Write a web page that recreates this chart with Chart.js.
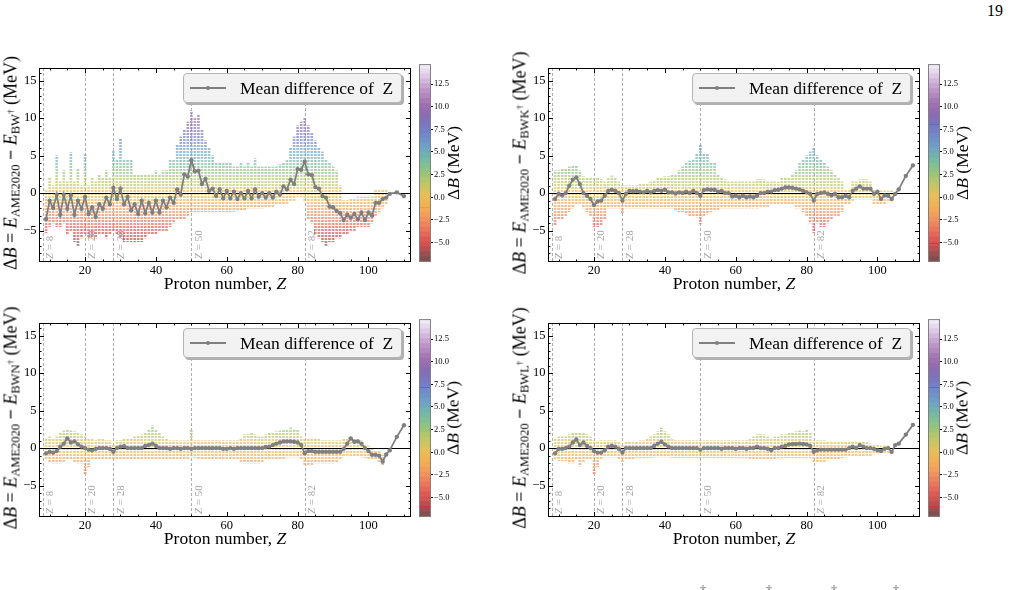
<!DOCTYPE html>
<html>
<head>
<meta charset="utf-8">
<title>Delta B versus proton number</title>
<script src="https://cdn.jsdelivr.net/npm/chart.js@4.4.1/dist/chart.umd.min.js"></script>
<style>
html,body{margin:0;padding:0;background:#fff}
body{position:relative;width:1014px;height:590px;overflow:hidden;font-family:"Liberation Serif","DejaVu Serif",serif;color:#000}
canvas{position:absolute}
.rot{position:absolute;white-space:nowrap;transform:translate(-50%,-50%) rotate(-90deg)}
.ylab{font-size:18px}
.ylab sub{font-size:12.5px;vertical-align:-3px}
.ylab sup{font-size:9px;vertical-align:6px}
.cblab{font-size:17.5px}
.xlab{position:absolute;white-space:nowrap;font-size:17.5px;transform:translate(-50%,-50%)}
.leg{position:absolute;box-sizing:border-box;width:219px;height:30px;border:1px solid #b4b4b4;border-radius:4px;background:#f2f2f2;box-shadow:2px 2px 0 #b0b0b0}
.leg .ln{position:absolute;left:6px;top:13px;width:36px;height:2px;background:#808080}
.leg .dot{position:absolute;left:22px;top:12px;width:4px;height:4px;border-radius:50%;background:#808080}
.leg .tx{position:absolute;left:56px;top:3px;font-size:17.5px;line-height:22px;white-space:pre}
.pg{position:absolute;left:987px;top:2px;font-size:16px}
.dg{position:absolute;top:583px;font-size:12px;color:#555}
</style>
</head>
<body>
<script>
// proton numbers present in the data
const Z = [9,10,11,12,13,14,15,16,17,18,
  19,20,21,22,23,24,25,26,27,28,
  29,30,31,32,33,34,35,36,37,38,
  39,40,41,42,43,44,45,46,47,48,
  49,50,51,52,53,54,55,56,57,58,
  59,60,61,62,63,64,65,66,67,68,
  69,70,71,72,73,74,75,76,77,78,
  79,80,81,82,83,84,85,86,87,88,
  89,90,91,92,93,94,95,96,97,98,
  99,100,101,102,103,104,105,106,108,110];

// BW+ : mean, lowest and highest ΔB of each Z (MeV)
const meanBW = [-3.45,-1.0,-2.0,-0.2,-2.9,-0.2,-2.1,-0.3,-2.9,-1.0,
  -2.1,-0.5,-2.8,-1.9,-3.2,-1.5,-2.1,-0.6,-1.5,0.7,
  -0.8,0.6,-1.5,-0.5,-2.3,-1.5,-2.8,-1.0,-2.7,-1.3,
  -2.6,-1.0,-2.6,-1.0,-1.9,-0.6,-1.3,0.5,-0.2,2.5,
  2.2,4.4,2.9,3.0,1.2,1.9,0.3,0.6,-0.4,0.5,
  -0.7,0.3,-0.7,0.2,-0.8,0.0,-0.7,0.3,-0.7,0.5,
  -0.5,0.0,-0.6,0.0,-0.6,0.2,-0.2,0.9,0.5,1.8,
  1.2,3.2,3.1,4.2,2.5,2.4,0.8,0.6,-0.4,-0.6,
  -1.8,-1.9,-2.4,-2.7,-3.6,-2.9,-3.3,-2.8,-3.5,-2.6,
  -3.6,-2.6,-3.0,-1.3,-1.3,-0.8,-0.6,-0.1,0.1,-0.4];
const loBW = [-5.3,-4.5,-4.0,-4.5,-4.5,-4.0,-5.5,-5.0,-6.5,-7.0,
  -6.0,-5.5,-6.0,-6.0,-6.0,-5.5,-5.5,-6.0,-5.5,-5.0,
  -5.5,-6.0,-6.5,-6.5,-6.5,-6.5,-6.5,-6.5,-6.0,-5.5,
  -5.5,-5.5,-5.0,-5.0,-5.0,-4.5,-4.0,-3.5,-3.5,-3.5,
  -3.0,-2.5,-2.5,-2.5,-2.5,-2.5,-2.5,-2.5,-2.5,-2.5,
  -2.5,-2.5,-2.5,-2.5,-2.3,-2.3,-2.3,-2.0,-2.0,-2.0,
  -2.0,-2.0,-1.8,-1.8,-1.8,-1.5,-1.5,-1.5,-1.5,-1.0,
  -1.0,-0.5,-0.5,-1.0,-3.5,-4.0,-5.5,-6.0,-6.5,-7.0,
  -6.5,-6.5,-6.0,-6.0,-5.5,-5.5,-5.0,-5.0,-4.5,-4.5,
  -4.5,-4.5,-4.0,-3.0,-2.5,-2.0,-1.5,-0.1,0.1,-0.4];
const hiBW = [0.5,2.0,1.0,5.0,1.5,3.0,1.5,5.4,1.5,3.2,
  1.0,5.2,1.0,2.0,1.5,2.5,2.0,3.0,2.0,5.7,
  4.5,7.2,4.5,4.5,4.5,2.5,2.5,2.5,2.5,2.5,
  2.5,3.0,2.5,3.0,3.0,4.5,4.5,6.5,7.5,8.5,
  9.5,11.0,10.0,10.5,8.5,7.0,6.0,5.0,4.0,4.0,
  4.0,4.0,4.0,3.5,3.5,4.0,3.5,4.0,3.5,4.6,
  3.5,3.5,3.5,3.5,3.5,3.5,3.8,4.0,4.5,6.0,
  7.5,9.0,9.5,10.0,9.0,8.0,7.0,6.0,5.5,4.5,
  4.0,3.5,3.0,1.0,-1.0,-1.0,-0.8,-0.8,-0.5,-0.5,
  -0.5,-0.5,-0.5,0.5,0.5,0.5,0.5,-0.1,0.1,-0.4];

// BWK+
const meanBWK = [-0.8,-0.1,-0.3,0.0,1.0,1.8,2.1,1.2,0.0,-0.35,
  -0.8,-1.6,-1.1,-1.0,-0.35,0.3,0.45,0.3,0.0,-1.0,
  -0.1,0.3,0.25,0.3,0.2,0.1,0.3,0.1,0.3,0.4,
  0.3,0.45,0.1,0.1,-0.05,0.1,0.0,0.2,0.0,0.3,
  0.0,-0.35,0.4,0.5,0.45,0.45,0.2,0.3,0.0,0.0,
  -0.45,-0.35,-0.55,-0.35,-0.55,-0.45,-0.55,-0.35,0.0,0.0,
  0.2,0.2,0.4,0.45,0.6,0.75,0.75,0.7,0.6,0.5,
  0.3,0.1,-0.1,-1.0,-0.1,0.0,0.1,-0.1,-0.3,-0.1,
  -0.55,-0.55,-0.35,-0.55,0.3,0.6,0.9,0.6,0.6,0.6,
  -0.1,0.2,-0.8,-0.3,-0.35,-0.8,-0.1,0.5,2.3,3.7];
const loBWK = [-4.3,-3.5,-3.5,-3.0,-2.5,-2.0,-1.5,-1.5,-2.0,-2.5,
  -3.0,-4.5,-4.5,-4.3,-3.5,-2.0,-2.0,-2.0,-2.0,-2.7,
  -2.0,-2.0,-2.0,-2.0,-2.0,-2.0,-2.0,-2.0,-2.0,-2.0,
  -2.0,-2.0,-2.0,-2.0,-2.3,-2.5,-2.5,-2.8,-3.0,-3.0,
  -3.2,-4.1,-3.0,-2.8,-2.5,-2.3,-2.2,-2.0,-2.0,-2.0,
  -2.0,-2.0,-2.0,-2.0,-2.0,-2.0,-2.0,-2.0,-1.8,-1.8,
  -1.8,-1.5,-1.5,-1.5,-1.5,-1.5,-1.5,-1.5,-2.0,-2.0,
  -2.5,-3.0,-4.0,-5.3,-4.0,-4.5,-4.5,-4.0,-3.5,-3.0,
  -3.0,-2.5,-1.5,-1.5,-1.0,-0.8,-0.8,-0.8,-0.8,-0.8,
  -1.5,-1.5,-1.5,-1.5,-1.2,-1.2,-0.1,0.5,2.3,3.7];
const hiBWK = [3.0,3.0,3.2,3.3,3.5,3.7,3.7,3.0,2.2,2.0,
  2.0,2.0,2.0,1.8,1.5,2.0,2.3,2.0,1.5,1.0,
  1.0,1.0,1.0,1.0,1.2,1.2,1.3,1.5,1.7,2.0,
  2.0,2.2,2.2,2.5,2.5,3.0,3.5,4.0,4.3,4.5,
  5.3,6.5,5.3,5.2,4.0,4.0,2.5,2.0,1.8,1.5,
  1.5,1.5,1.5,1.5,1.5,1.5,1.5,1.8,1.8,1.8,
  1.5,1.5,1.5,1.5,2.0,2.0,2.0,2.5,3.0,4.0,
  4.5,5.0,5.5,6.0,5.0,4.5,4.0,3.5,3.0,2.5,
  2.0,1.5,0.5,0.5,1.5,1.5,1.8,1.8,1.8,1.5,
  0.5,0.5,0.3,0.3,0.3,0.3,-0.1,0.5,2.3,3.7];

// BWN+
const meanBWN = [-0.7,-0.5,-0.6,-0.4,0.2,0.6,1.3,0.75,0.9,0.5,
  0.2,0.0,-0.2,-0.3,-0.1,0.0,0.0,0.0,-0.1,-0.5,
  0.0,0.2,0.25,0.0,0.0,0.0,0.0,0.0,0.3,0.4,
  0.6,0.3,0.0,0.0,0.0,-0.1,0.0,0.0,-0.1,0.0,
  0.0,-0.1,0.0,0.0,0.0,0.0,0.0,0.0,0.0,0.0,
  -0.1,-0.1,0.0,-0.1,0.0,0.0,0.0,0.0,0.0,0.0,
  0.0,0.0,0.15,0.2,0.4,0.6,0.75,0.9,0.9,0.9,
  0.85,0.75,0.4,-0.7,-0.4,-0.4,-0.5,-0.5,-0.5,-0.5,
  -0.5,-0.5,-0.5,-0.5,-0.1,0.6,1.3,0.85,0.9,0.6,
  0.0,-0.4,-0.9,-0.9,-1.0,-1.8,-0.85,-0.3,1.5,3.05];
const loBWN = [-1.5,-1.8,-2.0,-2.0,-2.0,-1.8,-1.5,-1.5,-1.8,-2.0,
  -2.0,-3.5,-2.5,-1.5,-1.5,-1.5,-1.5,-1.5,-1.5,-1.5,
  -1.5,-1.5,-1.5,-1.5,-1.5,-1.5,-1.5,-1.5,-1.5,-1.5,
  -1.5,-1.5,-1.5,-1.5,-1.5,-1.5,-1.5,-1.5,-1.5,-1.5,
  -1.5,-1.0,-1.3,-1.5,-1.5,-1.5,-1.5,-1.5,-1.5,-1.5,
  -1.5,-1.5,-1.5,-1.5,-1.5,-1.8,-2.0,-2.0,-2.0,-2.0,
  -2.0,-1.8,-1.5,-1.5,-1.5,-1.5,-1.5,-1.5,-1.2,-1.2,
  -1.2,-1.2,-1.5,-2.2,-2.2,-2.2,-2.0,-2.0,-2.0,-2.0,
  -2.0,-2.0,-1.8,-1.5,-1.2,-1.0,-1.0,-1.0,-1.0,-1.2,
  -1.3,-1.5,-1.5,-1.5,-1.8,-2.3,-0.85,-0.3,1.5,3.05];
const hiBWN = [1.2,1.5,1.3,1.5,2.0,2.3,2.5,2.3,2.2,2.0,
  1.8,1.5,1.3,1.3,1.0,1.3,1.3,1.0,1.0,0.5,
  1.0,1.0,1.2,1.3,1.3,1.5,1.6,1.8,2.0,2.5,
  3.0,2.5,2.0,1.5,1.3,1.0,1.0,1.0,1.0,1.0,
  1.0,2.5,1.0,1.0,1.0,1.0,1.0,1.0,1.0,1.0,
  1.0,1.0,1.0,1.0,1.0,1.3,1.8,1.8,2.0,1.8,
  1.5,1.5,1.8,2.0,2.0,2.2,2.3,2.5,2.5,2.7,
  2.5,2.5,1.5,1.2,1.2,1.2,1.2,1.2,1.0,1.0,
  1.0,1.0,1.0,1.0,1.2,1.3,1.3,1.2,1.2,1.0,
  0.5,0.3,0.0,-0.3,-0.4,-0.9,-0.85,-0.3,1.5,3.05];

// BWL+
const meanBWL = [-0.7,-0.1,-0.1,0.0,0.2,0.75,1.15,0.4,0.75,0.3,
  0.0,-0.4,-0.6,-0.6,-0.3,0.2,0.3,0.2,-0.1,-0.6,
  0.0,0.0,0.0,0.0,0.0,0.0,0.0,0.0,0.3,0.6,
  0.85,0.5,0.2,0.0,0.0,0.0,0.0,0.0,0.0,0.0,
  0.0,-0.2,0.0,0.0,0.0,0.0,0.0,-0.1,0.0,0.0,
  0.0,-0.1,0.0,0.0,-0.1,0.0,0.0,0.2,0.0,0.0,
  -0.1,-0.3,0.0,0.0,0.2,0.3,0.5,0.55,0.55,0.6,
  0.55,0.5,0.3,-0.5,-0.3,-0.2,-0.2,-0.2,-0.2,-0.2,
  -0.2,-0.2,-0.2,0.0,0.2,0.0,0.4,0.2,0.0,0.0,
  -0.1,-0.3,-0.4,-0.1,0.0,-0.5,0.4,0.6,1.8,3.1];
const loBWL = [-1.5,-1.7,-1.7,-1.7,-2.0,-2.0,-1.5,-2.4,-1.8,-1.5,
  -1.5,-3.5,-2.5,-1.5,-1.2,-1.2,-1.2,-1.2,-1.5,-1.8,
  -1.5,-1.5,-1.5,-1.3,-1.3,-1.3,-1.3,-1.3,-1.2,-1.2,
  -1.2,-1.2,-1.2,-1.3,-1.3,-1.3,-1.3,-1.3,-1.3,-1.3,
  -1.3,-1.3,-1.3,-1.3,-1.3,-1.3,-1.3,-1.3,-1.3,-1.3,
  -1.3,-1.3,-1.3,-1.3,-1.3,-1.5,-1.5,-1.5,-1.5,-1.5,
  -1.5,-1.6,-1.5,-1.3,-1.3,-1.3,-1.3,-1.3,-1.3,-1.3,
  -1.3,-1.3,-1.3,-1.8,-1.8,-1.8,-1.8,-1.6,-1.5,-1.5,
  -1.5,-1.3,-1.2,-1.0,-1.0,-1.0,-1.0,-1.0,-1.0,-1.0,
  -0.8,-0.8,-0.6,-0.6,-0.6,-0.6,0.4,0.6,1.8,3.1];
const hiBWL = [1.2,1.5,1.5,1.5,1.8,2.0,2.0,2.0,2.0,1.8,
  1.5,1.0,0.8,1.0,1.0,1.0,1.0,1.0,0.8,0.5,
  0.8,0.8,0.8,0.8,1.0,1.0,1.2,1.5,1.8,2.2,
  2.7,2.2,1.8,1.3,1.0,1.0,1.0,1.0,1.0,1.0,
  1.0,1.0,1.0,1.0,1.0,1.0,1.0,1.0,1.0,1.0,
  1.0,1.0,1.0,1.0,1.0,1.2,1.5,1.8,1.8,1.8,
  1.5,1.3,1.5,1.5,1.8,1.8,2.0,2.0,2.2,2.3,
  2.2,2.4,2.0,1.0,1.0,1.0,1.0,0.8,0.8,0.8,
  0.8,0.8,0.8,0.8,0.8,0.8,0.9,0.8,0.8,0.6,
  0.5,0.4,0.3,0.3,0.3,-0.5,0.4,0.6,1.8,3.1];

const magicZ = [8, 20, 28, 50, 82];
const cbRange = [-7.13, 14.7];
const cbTicks = [-5, -2.5, 0, 2.5, 5, 7.5, 10, 12.5];

// colour map (value, colour)
const cmapStops = [
  [-7.13,'#7a4d4d'],[-6.2,'#9e5050'],[-5.4,'#cc5050'],[-4.6,'#e05a55'],
  [-3.8,'#e8705c'],[-3.0,'#ec8560'],[-2.2,'#f09a5c'],[-1.4,'#f2aa58'],
  [-0.6,'#edb654'],[0.2,'#e3c05c'],[1.0,'#cdc462'],[1.8,'#b4c66c'],
  [2.6,'#98c47c'],[3.4,'#84c090'],[4.2,'#76b8a6'],[5.0,'#70aabc'],
  [5.8,'#6e9cc8'],[6.6,'#708cca'],[7.4,'#747ec4'],[8.2,'#7c74bc'],
  [9.0,'#8a6cb2'],[9.8,'#9a6cae'],[10.6,'#a878b6'],[11.4,'#b68cc2'],
  [12.2,'#c6a2d0'],[13.0,'#d6bee0'],[13.8,'#e6d8ee'],[14.7,'#f4f2fa']
];

const SERIF = '"Liberation Serif", "DejaVu Serif", serif';
Chart.defaults.font.family = SERIF;
Chart.defaults.color = '#000';

const W = 372, H = 198;
const panels = [
  {L:39,  T:64,  sub:'BW',  mean:meanBW,  lo:loBW,  hi:hiBW,  marks:[[-1.05,'#e6a23a']]},
  {L:548, T:64,  sub:'BWK', mean:meanBWK, lo:loBWK, hi:hiBWK, marks:[[8.05,'#4f6fc6'],[-5.0,'#d23a3a']]},
  {L:39,  T:319, sub:'BWN', mean:meanBWN, lo:loBWN, hi:hiBWN, marks:[[7.2,'#4f6fc6'],[-5.9,'#c83a3a']]},
  {L:548, T:319, sub:'BWL', mean:meanBWL, lo:loBWL, hi:hiBWL, marks:[[7.2,'#4f6fc6'],[-5.9,'#c83a3a']]}
];

function hexRgb(h){return [parseInt(h.slice(1,3),16),parseInt(h.slice(3,5),16),parseInt(h.slice(5,7),16)];}
function cmap(v, a){
  const s = cmapStops;
  if (!isFinite(v)) v = 0;
  if (v <= s[0][0]) v = s[0][0];
  if (v >= s[s.length-1][0]) v = s[s.length-1][0];
  let i = 0;
  while (i < s.length-2 && v > s[i+1][0]) i++;
  const t = (v - s[i][0]) / (s[i+1][0] - s[i][0]);
  const c0 = hexRgb(s[i][1]), c1 = hexRgb(s[i+1][1]);
  const c = c0.map((c, k) => Math.round(c + (c1[k]-c)*t));
  return `rgba(${c[0]},${c[1]},${c[2]},${a})`;
}
const minus = v => (v < 0 ? '\u2212' : '') + Math.abs(v);

// speckled fill coloured by the value of the y scale, built once the layout is known
function buildSpeckle(chart){
  const ys = chart.scales.y, a = chart.chartArea;
  const c = document.createElement('canvas');
  c.width = 4; c.height = chart.height;
  const g = c.getContext('2d');
  for (let py = 0; py < c.height; py++) {
    if (py % 3 === 2) continue;
    const v = ys.min + (ys.max - ys.min) * (a.bottom - (py + 0.5)) / (a.bottom - a.top);
    g.fillStyle = cmap(v, 0.68);
    g.fillRect(0, py, 4, 1);
  }
  chart.$speckle = chart.ctx.createPattern(c, 'repeat-x');
}

const decor = {
  id: 'decor',
  afterLayout(chart){ buildSpeckle(chart); },
  beforeDatasetsDraw(chart){
    const {ctx, chartArea: a, scales: {x}} = chart;
    ctx.save();
    ctx.strokeStyle = '#9a9a9a'; ctx.lineWidth = 0.8; ctx.setLineDash([3, 2]);
    magicZ.forEach(z => {
      const px = Math.round(x.getPixelForValue(z)) + 0.5;
      ctx.beginPath(); ctx.moveTo(px, a.top); ctx.lineTo(px, a.bottom); ctx.stroke();
    });
    ctx.setLineDash([]);
    ctx.fillStyle = '#a4a4a4';
    magicZ.forEach(z => {
      ctx.save();
      ctx.translate(x.getPixelForValue(z) + 2, a.bottom - 3);
      ctx.rotate(-Math.PI / 2);
      ctx.textBaseline = 'top'; ctx.textAlign = 'left';
      ctx.font = 'italic 11px ' + SERIF;
      ctx.fillText('Z', 0, 0);
      const w = ctx.measureText('Z').width;
      ctx.font = '11px ' + SERIF;
      ctx.fillText(' = ' + z, w, 0);
      ctx.restore();
    });
    ctx.restore();
  },
  afterDatasetDraw(chart, args){
    if (args.index !== 0) return;
    const {ctx, chartArea: a, scales: {y}} = chart;
    const py = Math.round(y.getPixelForValue(0)) + 0.5;
    ctx.save();
    ctx.strokeStyle = '#000'; ctx.lineWidth = 1.2;
    ctx.beginPath(); ctx.moveTo(a.left, py); ctx.lineTo(a.right, py); ctx.stroke();
    ctx.restore();
  },
  afterDraw(chart){
    const {ctx, chartArea: a, scales: {x, y}} = chart;
    ctx.save();
    ctx.strokeStyle = '#000'; ctx.lineWidth = 1;
    ctx.strokeRect(a.left + 0.5, a.top + 0.5, a.right - a.left - 1, a.bottom - a.top - 1);
    ctx.beginPath();
    for (let v = Math.ceil(x.min / 5) * 5; v <= x.max; v += 5) {
      const len = v % 20 === 0 ? 5 : 2.5;
      const px = Math.round(x.getPixelForValue(v)) + 0.5;
      ctx.moveTo(px, a.bottom); ctx.lineTo(px, a.bottom - len);
      ctx.moveTo(px, a.top); ctx.lineTo(px, a.top + len);
    }
    for (let v = Math.ceil(y.min); v <= y.max; v += 1) {
      const len = v % 5 === 0 ? 5 : 2.5;
      const py = Math.round(y.getPixelForValue(v)) + 0.5;
      ctx.moveTo(a.left, py); ctx.lineTo(a.left + len, py);
      ctx.moveTo(a.right, py); ctx.lineTo(a.right - len, py);
    }
    ctx.stroke();
    ctx.restore();
  }
};

const cbDecor = {
  id: 'cbDecor',
  afterDraw(chart){
    const {ctx, chartArea: a, scales: {y}} = chart;
    ctx.save();
    (chart.options.plugins.cbDecor.marks || []).forEach(([v, col]) => {
      const py = Math.round(y.getPixelForValue(v)) + 0.5;
      ctx.strokeStyle = col; ctx.lineWidth = 1;
      ctx.beginPath(); ctx.moveTo(a.left, py); ctx.lineTo(a.right, py); ctx.stroke();
    });
    ctx.strokeStyle = '#808080'; ctx.lineWidth = 1;
    ctx.strokeRect(a.left + 0.5, a.top + 0.5, a.right - a.left - 1, a.bottom - a.top - 1);
    ctx.restore();
  }
};

function addEl(cls, html, x, y){
  const d = document.createElement('div');
  d.className = cls; d.innerHTML = html;
  d.style.left = x + 'px'; d.style.top = y + 'px';
  document.body.appendChild(d);
  return d;
}
function addCanvas(x, y, w, h){
  const c = document.createElement('canvas');
  c.width = w; c.height = h;
  c.style.left = x + 'px'; c.style.top = y + 'px';
  document.body.appendChild(c);
  return c;
}

// colour-bar bands
const nBands = 40;
const bands = [];
for (let i = 0; i < nBands; i++) {
  const lo = cbRange[0] + (cbRange[1] - cbRange[0]) * i / nBands;
  const hi = cbRange[0] + (cbRange[1] - cbRange[0]) * (i + 1) / nBands;
  bands.push([lo, Math.min(hi + 0.03, cbRange[1]), cmap((lo + hi) / 2, 1)]);
}

panels.forEach(p => {
  const cv = addCanvas(p.L - 40, p.T - 6, W + 46, H + 32);
  new Chart(cv, {
    type: 'bar',
    data: {
      datasets: [
        {type: 'bar', data: Z.map((z, i) => ({x: z, y: [p.lo[i], p.hi[i]]})),
         backgroundColor: c => c.chart.$speckle || 'rgba(0,0,0,0)', borderWidth: 0, barThickness: 2, order: 2},
        {type: 'line', data: Z.map((z, i) => ({x: z, y: p.mean[i]})),
         borderColor: '#7f7f7f', borderWidth: 1.8, pointRadius: 2.2, pointBackgroundColor: '#7f7f7f',
         pointBorderWidth: 0, fill: false, tension: 0, order: 0}
      ]
    },
    options: {
      responsive: false, animation: false, events: [],
      layout: {padding: {left: 0, top: 6, right: 6, bottom: 0}},
      plugins: {legend: {display: false}, tooltip: {enabled: false}},
      scales: {
        x: {type: 'linear', min: 7, max: 112, offset: false,
            grid: {display: false, drawTicks: false}, border: {display: false},
            ticks: {stepSize: 20, includeBounds: false, padding: 1, maxRotation: 0,
                    font: {size: 12.5}, callback: v => minus(v)},
            afterFit: s => { s.height = 26; }},
        y: {min: -9.2, max: 16.7,
            grid: {display: false, drawTicks: false}, border: {display: false},
            ticks: {stepSize: 5, includeBounds: false, padding: 2.5,
                    font: {size: 12.5}, callback: v => minus(v)},
            afterFit: s => { s.width = 40; }}
      }
    },
    plugins: [decor]
  });

  const cb = addCanvas(p.L + W + 8, p.T - 6, 40, H + 12);
  new Chart(cb, {
    type: 'bar',
    data: {
      labels: [''],
      datasets: bands.map(b => ({data: [[b[0], b[1]]], backgroundColor: b[2], borderWidth: 0,
        grouped: false, barPercentage: 1, categoryPercentage: 1}))
    },
    options: {
      responsive: false, animation: false, events: [],
      layout: {padding: {left: 0, top: 6, right: 0, bottom: 6}},
      plugins: {legend: {display: false}, tooltip: {enabled: false}, cbDecor: {marks: p.marks}},
      scales: {
        x: {display: false},
        y: {position: 'right', min: cbRange[0], max: cbRange[1],
            grid: {display: true, drawOnChartArea: false, drawTicks: true, tickLength: 2, color: '#000'},
            border: {display: false},
            afterBuildTicks: s => { s.ticks = cbTicks.map(v => ({value: v})); },
            ticks: {padding: 1, font: {size: 8.5},
                    callback: v => (v < 0 ? '\u2212' : '') + Math.abs(v).toFixed(1)},
            afterFit: s => { s.width = 28; }}
      }
    },
    plugins: [cbDecor]
  });

  addEl('rot ylab',
    `\u0394<i>B</i> = <i>E</i><sub>AME2020</sub> <b>\u2212</b> <i>E</i><sub>${p.sub}<sup>\u2020</sup></sub> (MeV)`,
    p.L - 27, p.T + H / 2);
  addEl('xlab', 'Proton number, <i>Z</i>', p.L + W / 2, p.T + H + 21);
  addEl('rot cblab', '\u0394<i>B</i> (MeV)', p.L + W + 42, p.T + H / 2);
  addEl('leg', '<span class="ln"></span><span class="dot"></span><span class="tx">Mean difference of  Z</span>',
    p.L + 144, p.T + 9);
});

addEl('pg', '19', 987, 2);
[700, 766, 831, 893].forEach(x => addEl('dg', '\u2020', x, 583));
</script>
</body>
</html>
